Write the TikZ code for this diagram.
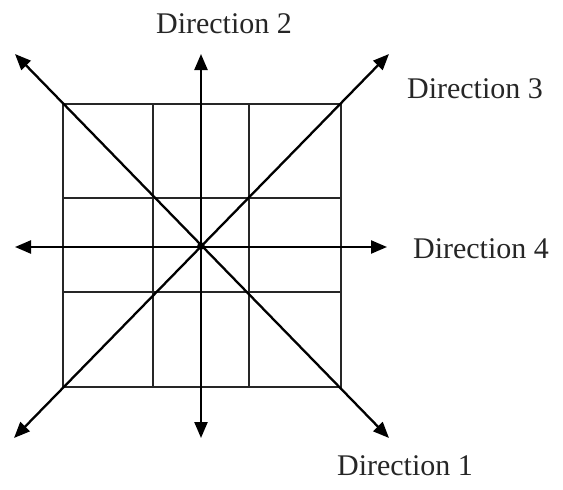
\documentclass[tikz,border=0pt]{standalone}
\usepackage{fontspec}
\setmainfont{Liberation Serif}
\usetikzlibrary{arrows.meta}
\begin{document}
\begin{tikzpicture}[x=1pt,y=-1pt,
  gridline/.style={line width=2.1pt,black!85},
  dirarrow/.style={line width=2.3pt,{Triangle[length=16pt,width=13pt]}-{Triangle[length=16pt,width=13pt]}},
  dirlabel/.style={anchor=base,inner sep=0pt,font=\fontsize{30}{36}\selectfont,text=black!85}]
\useasboundingbox (0,0) rectangle (563,490);
% grid corners and lines
\coordinate (tl) at (63,104);
\coordinate (br) at (341,387);
\coordinate (tr) at (341,104);
\coordinate (bl) at (63,387);
\coordinate (v1t) at (153,104); \coordinate (v1b) at (153,387);
\coordinate (v2t) at (249,104); \coordinate (v2b) at (249,387);
\coordinate (h1l) at (63,198); \coordinate (h1r) at (341,198);
\coordinate (h2l) at (63,292); \coordinate (h2r) at (341,292);
\draw[gridline] (tl) rectangle (br);
\draw[gridline] (v1t) -- (v1b);
\draw[gridline] (v2t) -- (v2b);
\draw[gridline] (h1l) -- (h1r);
\draw[gridline] (h2l) -- (h2r);
% arrow ends
\coordinate (c) at (201,246);
\coordinate (d1a) at (15,54);  \coordinate (d1b) at (389,438);
\coordinate (d3a) at (389,54); \coordinate (d3b) at (14,438);
\coordinate (d2a) at (201,54); \coordinate (d2b) at (201,438);
\coordinate (d4a) at (15,247); \coordinate (d4b) at (387,247);
\draw[dirarrow] (d1a) -- (d1b);
\draw[dirarrow] (d3a) -- (d3b);
\draw[dirarrow] (d2a) -- (d2b);
\draw[dirarrow] (d4a) -- (d4b);
\fill (c) circle (3.8pt);
% labels
\node[dirlabel] (l2) at (224,33) {Direction 2};
\node[dirlabel] (l3) at (475,98) {Direction 3};
\node[dirlabel] (l4) at (481,258) {Direction 4};
\node[dirlabel] (l1) at (405,475) {Direction 1};
\end{tikzpicture}
\end{document}
